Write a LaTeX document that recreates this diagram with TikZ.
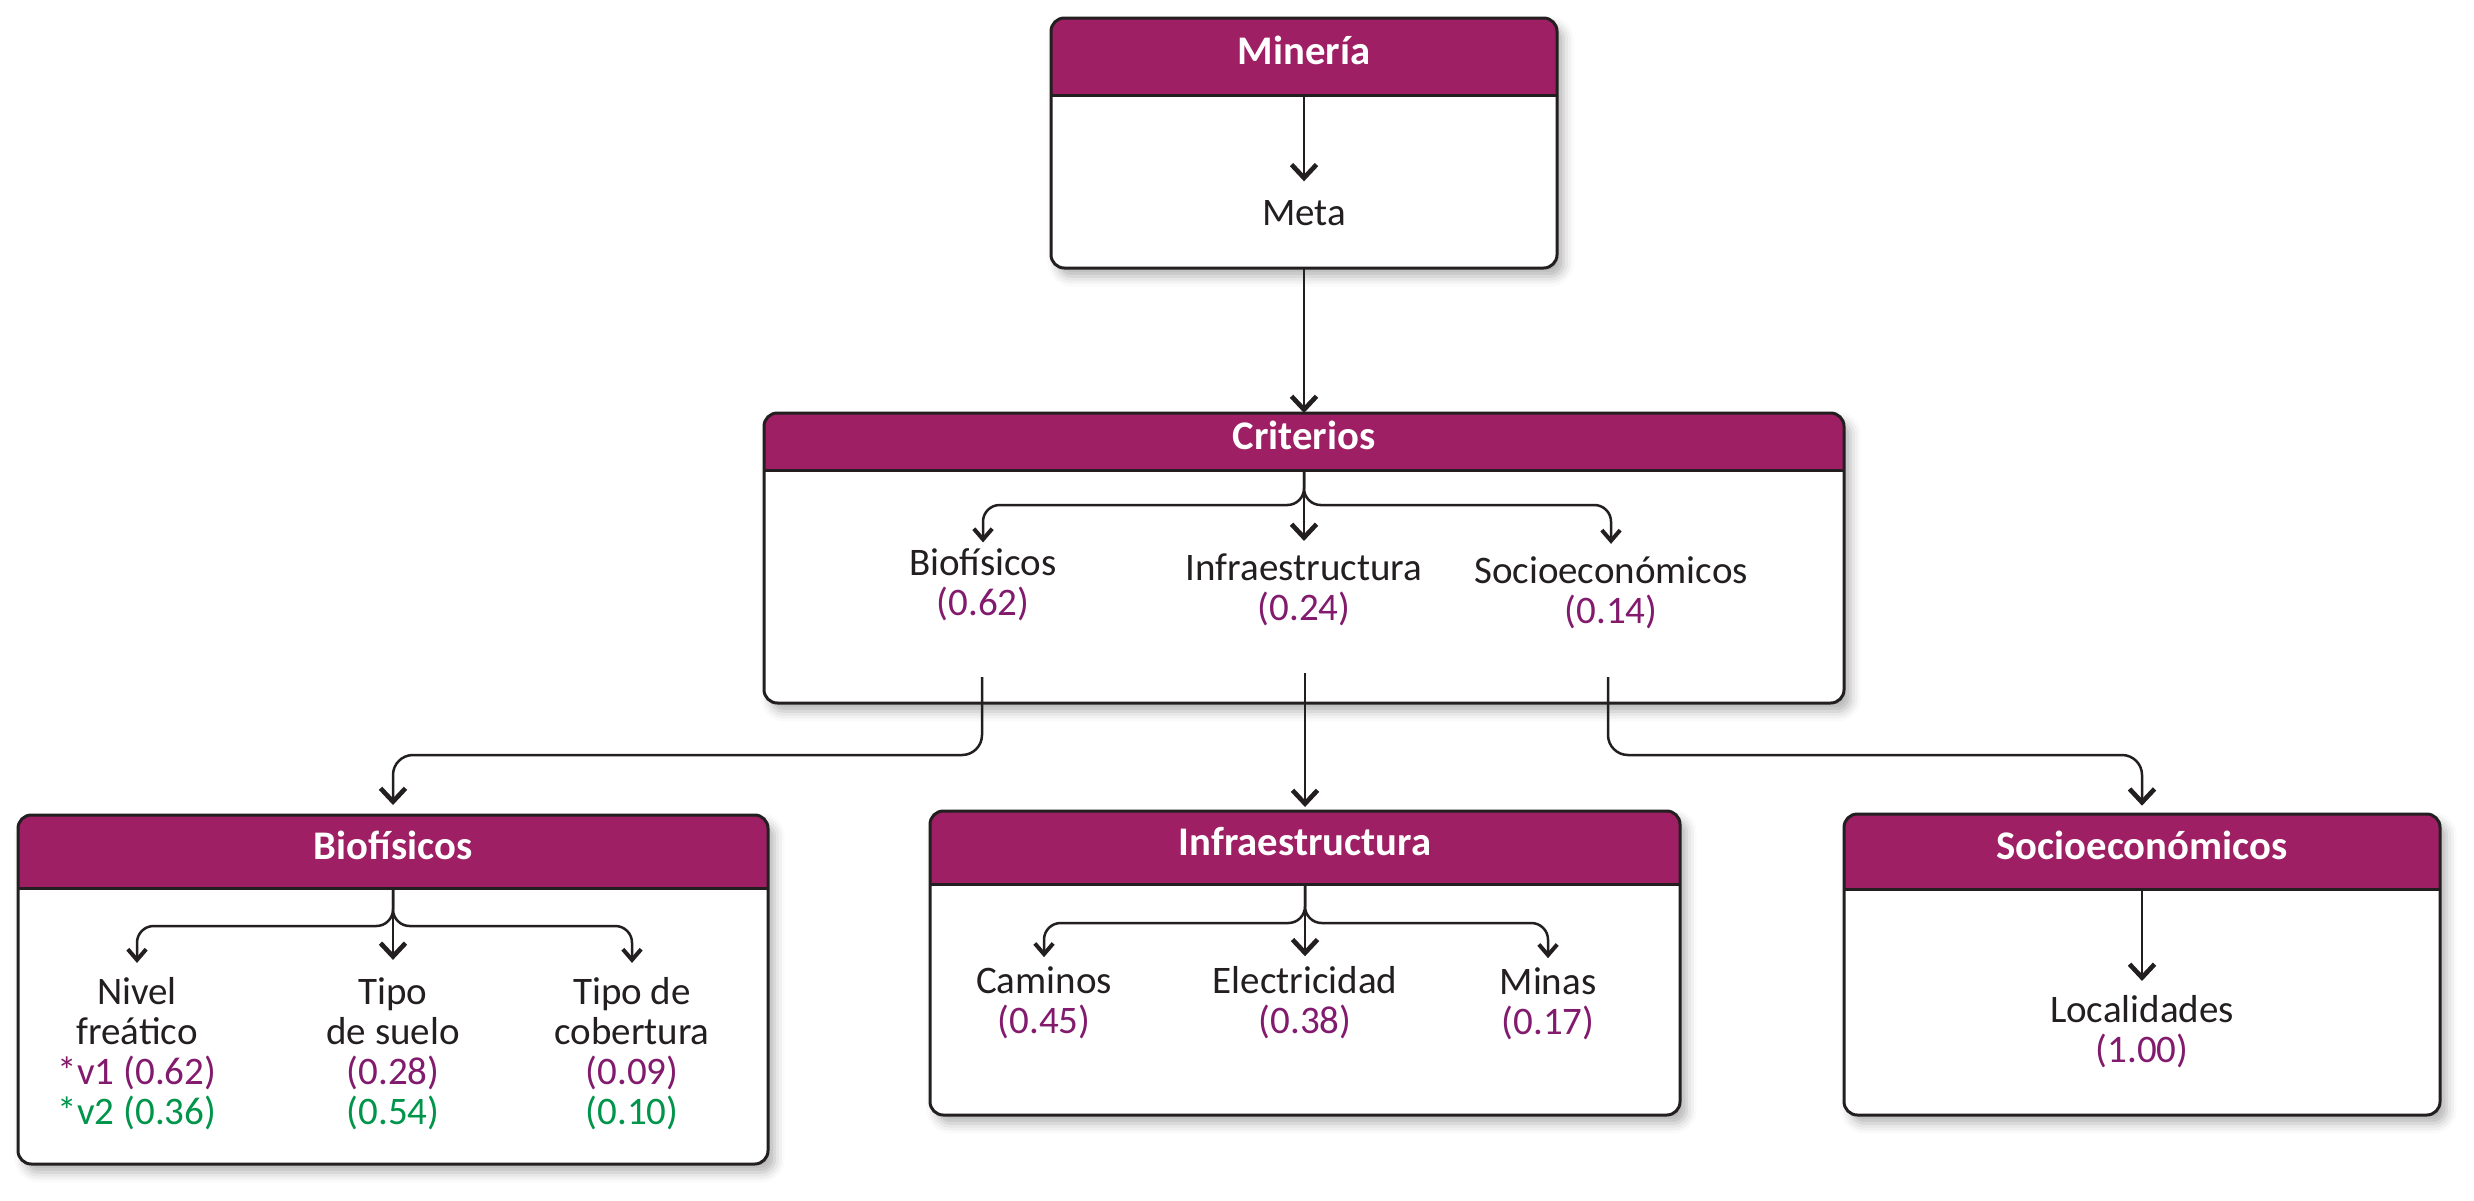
\documentclass[tikz,border=0pt]{standalone}
\usepackage{fontspec}
\setmainfont{Carlito}
\usetikzlibrary{arrows.meta, fit, shadows.blur}

\definecolor{morado}{HTML}{9E1F63}
\definecolor{valor}{HTML}{821A6D}
\definecolor{verde}{HTML}{00954A}
\definecolor{tinta}{HTML}{231F20}

\tikzset{
  cuerpo/.style={fill=white, rounded corners=4pt, inner sep=0pt, outer sep=0pt,
    blur shadow={shadow xshift=2pt, shadow yshift=-2.5pt, shadow blur radius=3pt, shadow opacity=30}},
  cabeza/.style={fill=morado, rounded corners=4pt, inner sep=0pt, outer sep=0pt},
  borde/.style={draw=tinta, line width=0.9pt},
  titulo/.style={anchor=mid, text=white, font=\fontsize{12.2}{13}\selectfont\bfseries},
  texto/.style={anchor=base, align=center, inner sep=0pt, text=tinta, font=\fontsize{11.7}{12}\selectfont},
  linea/.style={draw=tinta, line width=0.75pt},
  flecha/.style={linea, -{Straight Barb[length=4pt, width=7.5pt, line width=1.4pt]}},
  flechita/.style={linea, -{Straight Barb[length=3.2pt, width=5.5pt, line width=1.2pt]}},
}

% box with a coloured header: name, left, top, right, bottom, header bottom, title
\newcommand{\caja}[7]{%
  \node[cuerpo, fit={(#2,#3) (#4,#5)}] (#1) {};
  \node[cabeza, fit={(#2,#3) (#4,#6)}] (#1Head) {};
  \fill[morado] (#1Head.west) rectangle (#1Head.south east);
  \draw[borde, rounded corners=4pt] (#1.south west) rectangle (#1.north east);
  \draw[borde] (#1Head.south west) -- (#1Head.south east);
  \node[titulo] (#1Title) at (#1Head.center) {#7};
}

\begin{document}
\begin{tikzpicture}[x=0.3pt,y=0.3pt,yscale=-1,xscale=1]
\path[use as bounding box] (0,0) rectangle (2474,1200);

% Meta (text nodes sit on the baseline of their last line)
\caja{meta}{1051}{18}{1557}{268}{95}{Minería}
\node[texto] (metaTxt) at (1304,225) {Meta};
\draw[flecha, shorten >=5.4pt] (metaHead.south) -- (metaTxt.north);

% Criterios
\caja{crit}{764}{413}{1844}{703}{470}{Criterios}
\draw[flecha] (meta.south) -- (critHead.north);
\node[texto] (cBio) at (983,615) {Biofísicos\\\textcolor{valor}{(0.62)}};
\node[texto] (cInf) at (1304,620) {Infraestructura\\\textcolor{valor}{(0.24)}};
\node[texto] (cSoc) at (1611,623) {Socioeconómicos\\\textcolor{valor}{(0.14)}};
\draw[flechita, rounded corners=5pt, shorten >=1.5pt] (critHead.south) -- ++(0,35) -| (cBio.north);
\draw[flechita, rounded corners=5pt, shorten >=3.5pt] (critHead.south) -- ++(0,35) -| (cSoc.north);
\draw[flecha, shorten >=3.5pt] (critHead.south) -- (cInf.north);

% lower boxes
\caja{bio}{18}{815}{768}{1164}{888}{Biofísicos}
\caja{inf}{930}{811}{1680}{1115}{884}{Infraestructura}
\caja{soc}{1844}{814}{2440}{1115}{889}{Socioeconómicos}

% Criterios -> lower boxes
\coordinate (bioOut) at (982,677);
\coordinate (infOut) at (1305,673);
\coordinate (socOut) at (1608,677);
\draw[flecha, rounded corners=6pt, shorten >=3pt] (bioOut) -- ++(0,78) -| (bioHead.north);
\draw[flecha, shorten >=1.2pt] (infOut) -- (infHead.north);
\draw[flecha, rounded corners=6pt, shorten >=2.5pt] (socOut) -- ++(0,78) -| (socHead.north);

% Biofisicos
\node[texto] (bNivel) at (137,1124) {Nivel\\freático\\\textcolor{valor}{*v1 (0.62)}\\\textcolor{verde}{*v2 (0.36)}};
\node[texto] (bSuelo) at (393,1124) {Tipo\\de suelo\\\textcolor{valor}{(0.28)}\\\textcolor{verde}{(0.54)}};
\node[texto] (bCober) at (632,1124) {Tipo de\\cobertura\\\textcolor{valor}{(0.09)}\\\textcolor{verde}{(0.10)}};
\draw[flechita, rounded corners=5pt, shorten >=4pt] (bioHead.south) -- ++(0,38) -| (bNivel.north);
\draw[flechita, rounded corners=5pt, shorten >=4pt] (bioHead.south) -- ++(0,38) -| (bCober.north);
\draw[flecha, shorten >=5pt] (bioHead.south) -- (bSuelo.north);

% Infraestructura
\node[texto] (iCam) at (1044,1033) {Caminos\\\textcolor{valor}{(0.45)}};
\node[texto] (iEle) at (1305,1033) {Electricidad\\\textcolor{valor}{(0.38)}};
\node[texto] (iMin) at (1548,1034) {Minas\\\textcolor{valor}{(0.17)}};
\draw[flechita, rounded corners=5pt, shorten >=2.5pt] (infHead.south) -- ++(0,39) -| (iCam.north);
\draw[flechita, rounded corners=5pt, shorten >=2.5pt] (infHead.south) -- ++(0,39) -| (iMin.north);
\draw[flecha, shorten >=2.7pt] (infHead.south) -- (iEle.north);

% Socioeconomicos
\node[texto] (sLoc) at (2142,1062) {Localidades\\\textcolor{valor}{(1.00)}};
\draw[flecha, shorten >=4pt] (socHead.south) -- (sLoc.north);

\end{tikzpicture}
\end{document}
